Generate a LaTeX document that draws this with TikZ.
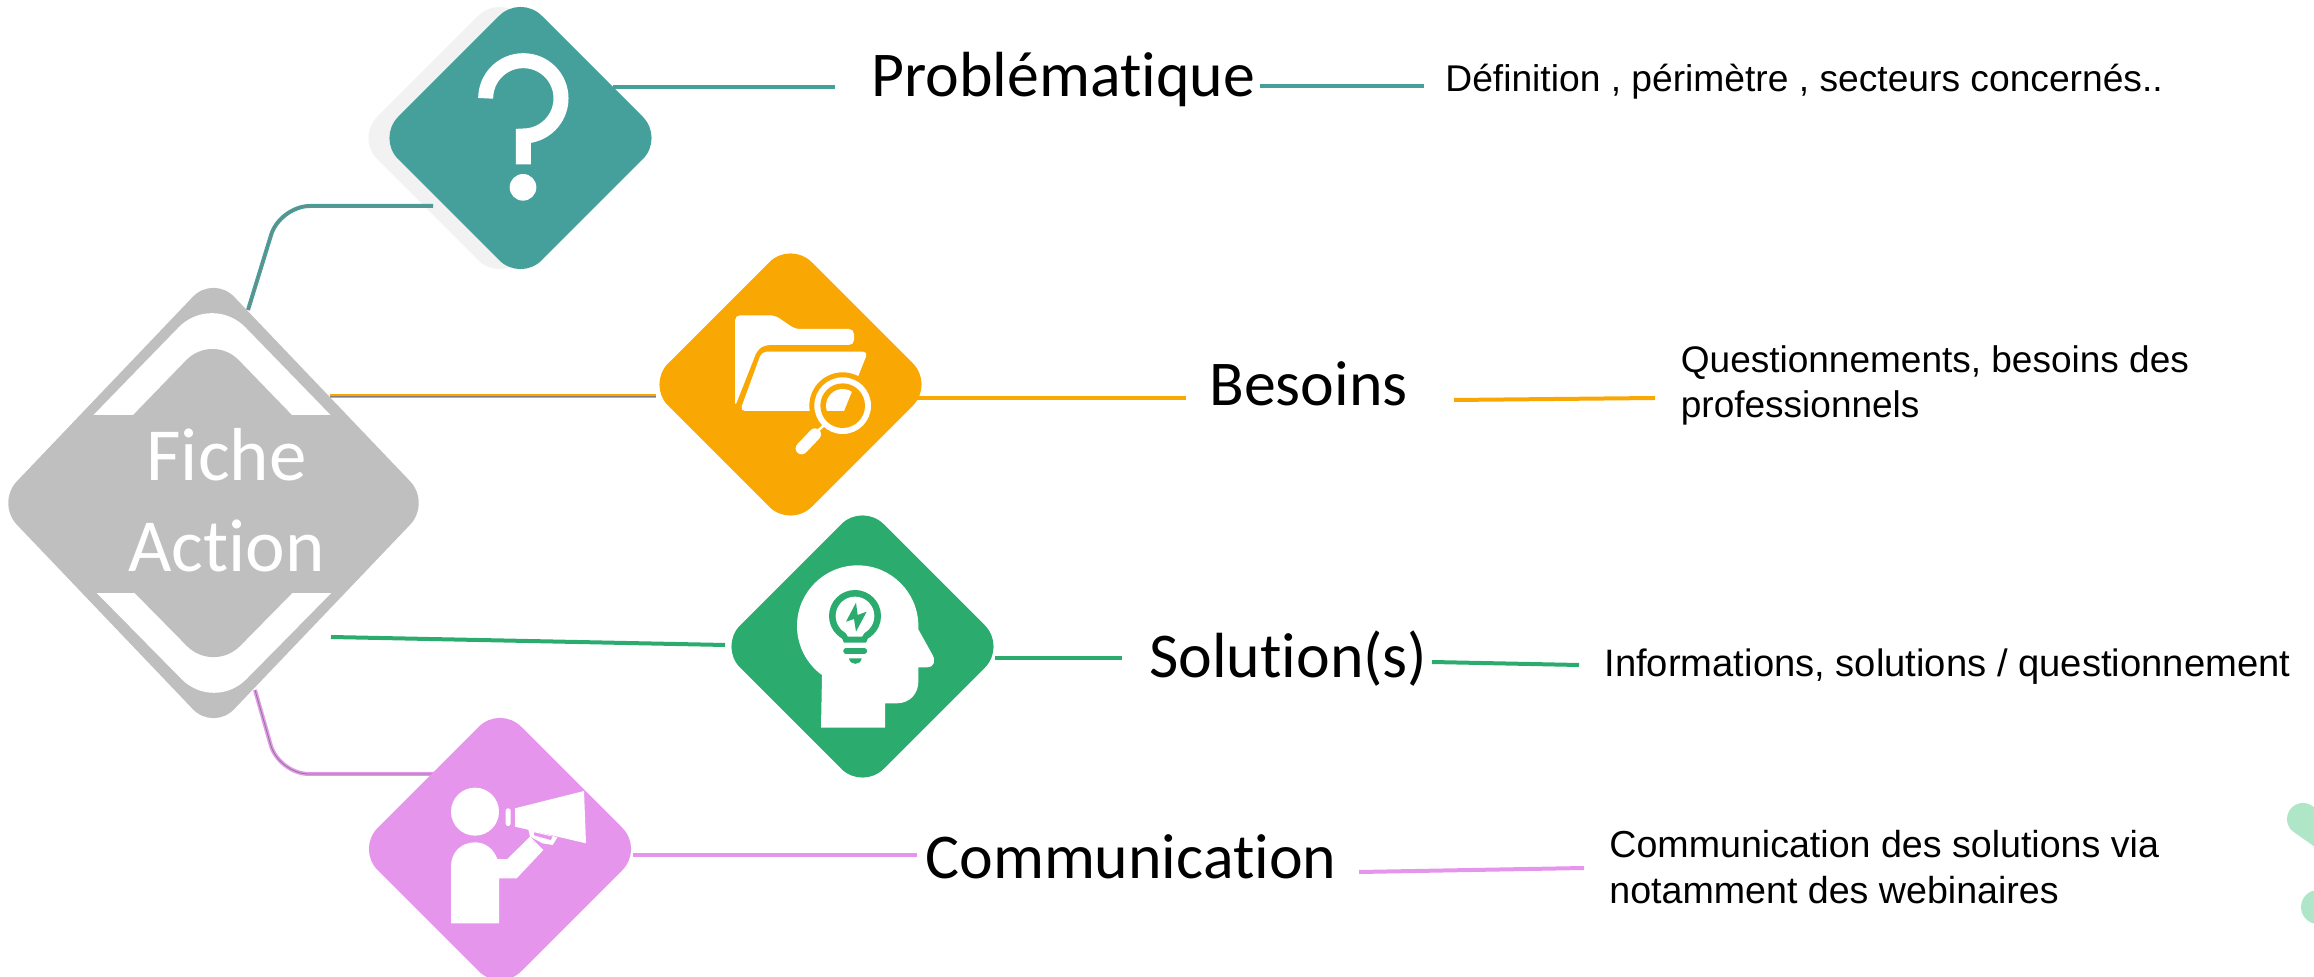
\documentclass[tikz,border=0pt]{standalone}
\usepackage{fontspec}
\setmainfont{Liberation Sans}
\newfontfamily\calib[Ligatures=NoCommon]{Carlito}
\usetikzlibrary{shapes.geometric}
\definecolor{tealc}{HTML}{45A09B}
\definecolor{orangec}{HTML}{F9A803}
\definecolor{greenc}{HTML}{2CAB6E}
\definecolor{pinkc}{HTML}{E695ED}
\definecolor{grayc}{HTML}{BFBFBF}
\definecolor{shadowc}{HTML}{F2F2F2}
\definecolor{blobc}{HTML}{B0E6C8}
\definecolor{corec}{HTML}{7F7F7F}
\tikzset{
  dia/.style={diamond,inner sep=0pt,outer sep=0pt,minimum width=143.5pt,minimum height=143.5pt,rounded corners=15pt,fill=#1},
  conn/.style={line width=2pt,draw=#1},
  coreconn/.style={line width=.8pt,draw=#1,double=corec,double distance=.4pt},
  title/.style={anchor=base west,inner sep=0pt,font=\calib\fontsize{31.9}{37}\selectfont,text=black},
  desc/.style={anchor=base west,inner sep=0pt,align=left,font=\fontsize{18.6}{22.5}\selectfont,text=black},
  icon/.style={shift={#1},x=.16667pt,y=-.16667pt}
}
\begin{document}
\begin{tikzpicture}[x=.5pt,y=-.5pt]
\useasboundingbox (0,0) rectangle (2314,977);
\begin{scope}
\clip (0,0) rectangle (2314,977);
\draw[line width=16pt,blobc,line cap=round] (2303,819) -- (2350,852);
\fill[blobc] (2318,907) circle[radius=17];
\end{scope}

% end points of the connectors
\coordinate (tl) at (248,310); \coordinate (tb) at (280,206); \coordinate (te) at (433,206);
\coordinate (tr1) at (613,87); \coordinate (tr2) at (835,87);
\coordinate (tr3) at (1260,86); \coordinate (tr4) at (1424,86);
\coordinate (ol) at (330,396); \coordinate (oe) at (656,396);
\coordinate (or1) at (914,398); \coordinate (or2) at (1186,398);
\coordinate (or3) at (1454,400); \coordinate (or4) at (1655,398);
\coordinate (gl) at (331,637); \coordinate (ge) at (725,645);
\coordinate (gr1) at (995,658); \coordinate (gr2) at (1122,658);
\coordinate (gr3) at (1432,662); \coordinate (gr4) at (1579,665);
\coordinate (pl) at (255,690); \coordinate (pb) at (279,774); \coordinate (pe) at (437,774);
\coordinate (pr1) at (633,855); \coordinate (pr2) at (917,855);
\coordinate (pr3) at (1359,872); \coordinate (pr4) at (1584,868);

\node[dia=shadowc] (shadow) at (499.5,138) {};
\draw[coreconn=tealc,rounded corners=15pt] (tl) -- (tb) -- (te);
\draw[coreconn=orangec] (ol) -- (oe);
\draw[conn=greenc] (gl) -- (ge);
\draw[coreconn=pinkc,rounded corners=15pt] (pl) -- (pb) -- (pe);
\draw[conn=tealc] (tr1) -- (tr2);
\draw[conn=tealc] (tr3) -- (tr4);
\draw[conn=orangec] (or1) -- (or2);
\draw[conn=orangec] (or3) -- (or4);
\draw[conn=greenc] (gr1) -- (gr2);
\draw[conn=greenc] (gr3) -- (gr4);
\draw[conn=pinkc] (pr1) -- (pr2);
\draw[conn=pinkc] (pr3) -- (pr4);

% central diamond
\node[diamond,inner sep=0pt,fill=grayc,minimum width=217.5pt,minimum height=228pt,rounded corners=15pt] (main) at (213.5,503) {};
\begin{scope}
\clip (0,280) rectangle (430,415);
\fill[white,rounded corners=24pt] (212,293) -- (416,503) -- (212,713) -- (8,503) -- cycle;
\fill[grayc,rounded corners=19pt] (212.5,333) -- (377,503) -- (212.5,673) -- (48,503) -- cycle;
\end{scope}
\begin{scope}
\clip (0,594) rectangle (430,730);
\fill[white,rounded corners=23pt] (214,712) -- (417,506) -- (214,300) -- (11,506) -- cycle;
\fill[grayc,rounded corners=19pt] (213.5,673) -- (378,506) -- (213.5,339) -- (49,506) -- cycle;
\end{scope}
\node[anchor=base,inner sep=0pt,align=center,text=white,font=\calib\fontsize{37.5}{45.5}\selectfont] (fa) at (226.5,572) {Fiche\\Action};

% icon diamonds
\node[dia=tealc] (teal) at (520.5,138) {};
\node[dia=orangec] (orange) at (790.5,384.5) {};
\node[dia=greenc] (green) at (862.5,646.5) {};
\node[dia=pinkc] (pink) at (500,849) {};

% question mark
\begin{scope}[icon={(350,0)}]
\draw[white,line width=7.5pt] (407,295) arc[start angle=180,end angle=450,radius=113] -- (520,493);
\fill[white] (519,562) circle[radius=40];
\end{scope}

% folder and magnifier
\begin{scope}[icon={(650,240)}]
\fill[white,rounded corners=2.5pt] (255,500) -- (255,226) -- (375,226) -- (435,267) -- (612,267) -- (612,315) -- (345,315) -- (322,330) -- cycle;
\fill[white,rounded corners=2.5pt] (270,513) -- (335,335) -- (654,335) -- (620,420) -- (560,513) -- cycle;
\fill[orangec] (578,497) circle[radius=100];
\fill[white] (578,497) circle[radius=85];
\fill[orangec] (578,497) circle[radius=67];
\begin{scope}
\clip (578,497) circle[radius=50];
\fill[white] (500,513) -- (582,513) -- (620,420) -- (500,420) -- cycle;
\end{scope}
\draw[white,line width=1.2pt] (490,585) -- (525,553);
\draw[white,line width=6pt,line cap=round] (455,625) -- (495,583);
\end{scope}

% head and bulb
\begin{scope}[icon={(720,510)}]
\fill[white] (303,653) -- (495,653) -- (495,580) -- (530,580) .. controls (570,580) and (595,550) .. (595,515) -- (595,472) -- (620,472) .. controls (645,472) and (648,450) .. (635,430) -- (595,358) -- (595,348) arc[start angle=360,end angle=126,radius=182] -- cycle;
\fill[greenc] (405,318) circle[radius=78];
\fill[greenc] (350,350) -- (372,398) -- (438,398) -- (460,350) -- cycle;
\fill[white] (405,318) circle[radius=58];
\fill[white] (365,350) -- (384,380) -- (426,380) -- (445,350) -- cycle;
\fill[greenc] (408,278) -- (378,335) -- (402,327) -- (408,365) -- (440,305) -- (413,315) -- cycle;
\draw[greenc,line width=2.8pt,line cap=round] (378,423) -- (433,423);
\fill[greenc] (387,445) -- (425,445) .. controls (422,467) and (390,467) .. (387,445) -- cycle;
\end{scope}

% person with megaphone
\begin{scope}[icon={(360,710)}]
\fill[white] (345,305) circle[radius=72];
\fill[white] (273,640) -- (273,470) .. controls (273,425) and (305,397) .. (345,397) .. controls (375,397) and (400,415) .. (412,447) -- (442,447) -- (510,380) -- (550,420) -- (470,505) -- (417,505) -- (417,640) -- cycle;
\fill[white] (465,295) -- (672,243) -- (678,400) -- (465,350) -- cycle;
\fill[white,rounded corners=1.2pt] (437,295) rectangle (452,348);
\fill[white] (505,358) -- (592,382) -- (578,405) -- (548,400) -- (510,380) -- cycle;
\fill[pinkc] (522,367) -- (578,380) -- (572,390) -- (522,376) -- cycle;
\end{scope}

% texts
\node[title] (t1) at (871,97) {Problématique};
\node[title] (t2) at (1209,406) {Besoins};
\node[title] (t3) at (1149,678) {Solution(s)};
\node[title] (t4) at (925,878) {Communication};
\node[desc] (d1) at (1445,92) {Définition , périmètre , secteurs concernés..};
\node[desc,font=\fontsize{18.5}{22.5}\selectfont] (d2) at (1680.5,418) {Questionnements, besoins des\\professionnels};
\node[desc,font=\fontsize{19.1}{22.5}\selectfont] (d3) at (1604,677) {Informations, solutions / questionnement};
\node[desc,font=\fontsize{18.8}{23}\selectfont] (d4) at (1609,904) {Communication des solutions via\\notamment des webinaires};
\end{tikzpicture}
\end{document}
